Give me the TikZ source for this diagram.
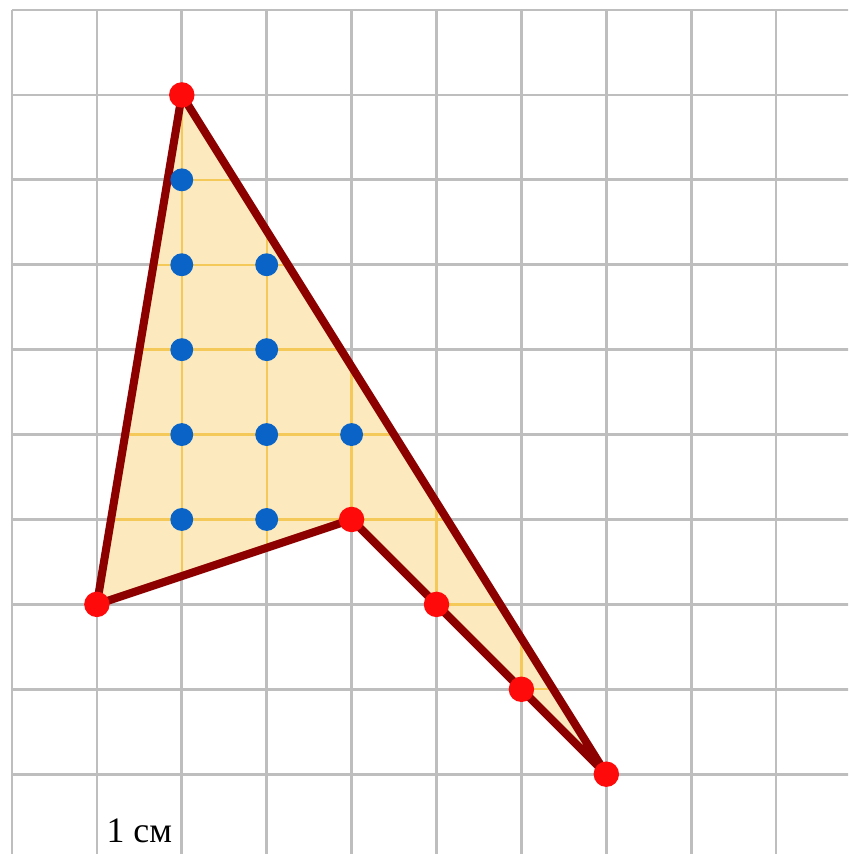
\documentclass[tikz,border=0pt]{standalone}
\usepackage{fontspec}
\setmainfont{Liberation Serif}
\usepackage{tikz}
\usetikzlibrary{calc}
\definecolor{gridGray}{RGB}{190,190,190}
\definecolor{areaFill}{RGB}{252,234,190}
\definecolor{areaGrid}{RGB}{245,200,90}
\definecolor{edgeRed}{RGB}{140,0,0}
\definecolor{pinRed}{RGB}{255,10,10}
\definecolor{pinBlue}{RGB}{10,100,200}
\newcommand{\vertexdot}[1]{\fill[pinRed] (#1) circle (0.15);}
\newcommand{\innerdot}[1]{\fill[pinBlue] (#1) circle (0.135);}

\begin{document}
\begin{tikzpicture}
		\useasboundingbox (-0.141,0.118) rectangle (9.847,-9.94);
		\clip (-0.141,0.118) rectangle (9.847,-9.94);
		\draw[gridGray,line width=0.9pt] (0,0) grid (10.5,-10.5);
		% corners of the figure
		\coordinate (A) at (2,-1); \coordinate (B) at (1,-7); \coordinate (C) at (4,-6);
		\coordinate (D) at (5,-7); \coordinate (E) at (6,-8); \coordinate (F) at (7,-9);
		\fill[areaFill] (A) -- (B) -- (C) -- (D) -- (E) -- (F) -- cycle;
		\begin{scope}
			\clip (A) -- (B) -- (C) -- (D) -- (E) -- (F) -- cycle;
			\draw[areaGrid,line width=0.8pt] (0,0) grid (10,-10);
		\end{scope}
		\draw[edgeRed,line width=2.7pt,line join=round] (A) -- (B) -- (C) -- (D) -- (E) -- (F) -- cycle;
		\innerdot{2,-2} \innerdot{2,-3} \innerdot{3,-3} \innerdot{2,-4} \innerdot{3,-4}
		\innerdot{2,-5} \innerdot{3,-5} \innerdot{4,-5} \innerdot{2,-6} \innerdot{3,-6}
		\vertexdot{A} \vertexdot{B} \vertexdot{C} \vertexdot{D} \vertexdot{E} \vertexdot{F}
		\node[font=\fontsize{12}{14}\selectfont,anchor=base] (unit) at (1.5,-9.81) {1 см};
\end{tikzpicture}
\end{document}
